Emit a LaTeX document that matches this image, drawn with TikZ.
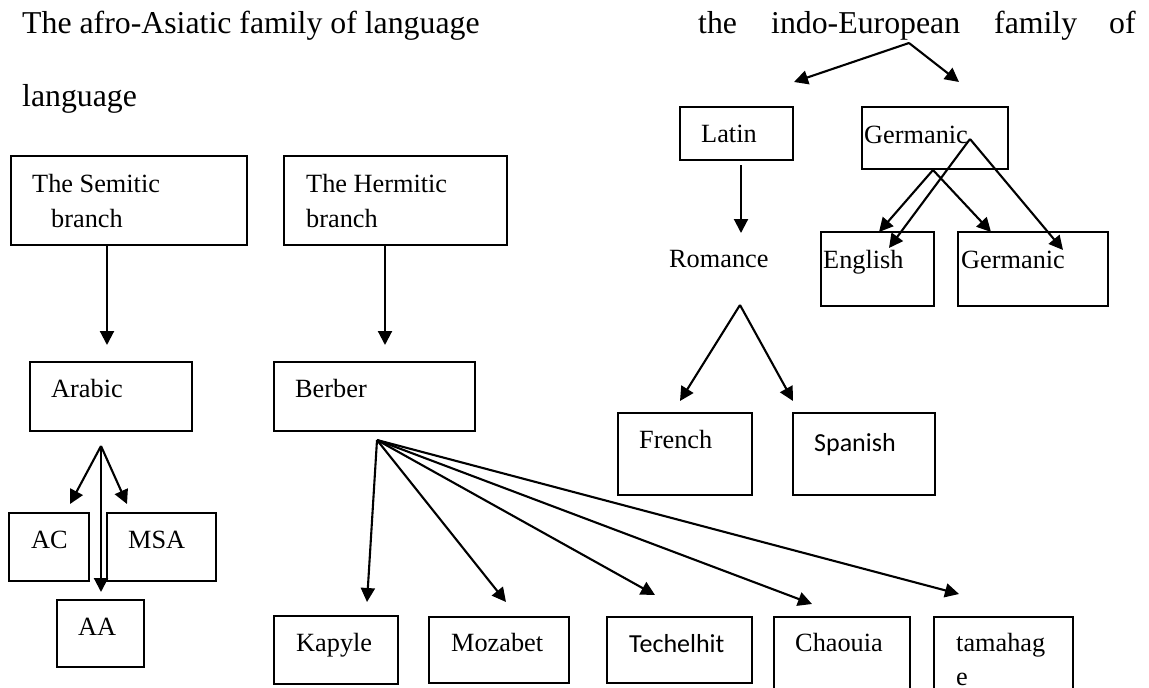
\documentclass[tikz,border=0pt]{standalone}
\usepackage{fontspec}
\setmainfont{Liberation Serif}
\newfontfamily\sansf{Carlito}
\usetikzlibrary{arrows.meta}
\begin{document}
\begin{tikzpicture}[x=1pt,y=-1pt,
  box/.style={draw, line width=1.3pt, inner sep=0pt, outer sep=0pt, anchor=north west},
  txt/.style={inner sep=0pt, anchor=base west, font=\fontsize{26.3}{30}\selectfont},
  stxt/.style={inner sep=0pt, anchor=base west, font=\sansf\fontsize{26}{30}\selectfont},
  ttl/.style={inner sep=0pt, anchor=base west, font=\fontsize{31.8}{36}\selectfont},
  arr/.style={line width=2.1pt, -{Triangle[length=14pt,width=14pt]}}]
\useasboundingbox (0,0) rectangle (1149,688);
\clip (0,0) rectangle (1149,688);
% titles
\node[ttl] (t1) at (22,33) {The afro-Asiatic family of language};
\node[ttl] (t2) at (22,106) {language};
\node[ttl] (t3) at (698,33) {the};
\node[ttl] (t4) at (771,33) {indo-European};
\node[ttl] (t5) at (994,33) {family};
\node[ttl] (t6) at (1109,33) {of};
% boxes
\node[box, minimum width=236pt, minimum height=89pt] (semitic) at (11,156) {};
\node[box, minimum width=223pt, minimum height=89pt] (hermitic) at (284,156) {};
\node[box, minimum width=113pt, minimum height=53pt] (latin) at (680,107) {};
\node[box, minimum width=146pt, minimum height=62pt] (germanic) at (862,107) {};
\node[box, minimum width=113pt, minimum height=74pt] (english) at (821,232) {};
\node[box, minimum width=150pt, minimum height=74pt] (germanic2) at (958,232) {};
\node[box, minimum width=162pt, minimum height=69pt] (arabic) at (30,362) {};
\node[box, minimum width=201pt, minimum height=69pt] (berber) at (274,362) {};
\node[box, minimum width=134pt, minimum height=82pt] (french) at (618,413) {};
\node[box, minimum width=142pt, minimum height=82pt] (spanish) at (793,413) {};
\node[box, minimum width=80pt, minimum height=68pt] (ac) at (9,513) {};
\node[box, minimum width=109pt, minimum height=68pt] (msa) at (107,513) {};
\node[box, minimum width=87pt, minimum height=67pt] (aa) at (57,600) {};
\node[box, minimum width=124pt, minimum height=68pt] (kapyle) at (274,616) {};
\node[box, minimum width=140pt, minimum height=66pt] (mozabet) at (429,617) {};
\node[box, minimum width=145pt, minimum height=66pt] (techelhit) at (607,617) {};
\node[box, minimum width=136pt, minimum height=90pt] (chaouia) at (774,617) {};
\node[box, minimum width=139pt, minimum height=90pt] (tamahage) at (934,617) {};
% texts
\node[txt] (semiticA) at (32,192) {The Semitic};
\node[txt] (semiticB) at (51,227) {branch};
\node[txt] (hermiticA) at (306,192) {The Hermitic};
\node[txt] (hermiticB) at (306,227) {branch};
\node[txt] (latinT) at (701,142) {Latin};
\node[txt] (germanicT) at (864,143) {Germanic};
\node[txt] (romance) at (669,267) {Romance};
\node[txt] (englishT) at (823,268) {English};
\node[txt] (germanicT2) at (961,268) {Germanic};
\node[txt] (arabicT) at (51,397) {Arabic};
\node[txt] (berberT) at (295,397) {Berber};
\node[txt] (frenchT) at (639,448) {French};
\node[stxt] (spanishT) at (814,451) {Spanish};
\node[txt] (acT) at (31,548) {AC};
\node[txt] (msaT) at (128,548) {MSA};
\node[txt] (aaT) at (78,635) {AA};
\node[txt] (kapyleT) at (296,651) {Kapyle};
\node[txt] (mozabetT) at (451,651) {Mozabet};
\node[stxt] (techelhitT) at (629,652) {Techelhit};
\node[txt] (chaouiaT) at (795,651) {Chaouia};
\node[txt] (tamahageA) at (956,651) {tamahag};
\node[txt] (tamahageB) at (956,685) {e};
% connector points
\coordinate (semS) at (107,245);  \coordinate (semE) at (107,345);
\coordinate (herS) at (385,245);  \coordinate (herE) at (385,345);
\coordinate (indo) at (909,43);
\coordinate (indoL) at (794,82);  \coordinate (indoR) at (959,82);
\coordinate (latS) at (741,165);  \coordinate (latE) at (741,233);
\coordinate (gerA) at (970,139);
\coordinate (gerA1) at (889,248); \coordinate (gerA2) at (1063,250);
\coordinate (gerB) at (933,170);
\coordinate (gerB1) at (879,232); \coordinate (gerB2) at (991,232);
\coordinate (rom) at (740,305);
\coordinate (romL) at (680,401);  \coordinate (romR) at (793,401);
\coordinate (arb) at (101,446);
\coordinate (arbL) at (70,504);   \coordinate (arbR) at (127,504);
\coordinate (arbD) at (101,592);
\coordinate (ber) at (377,440);
\coordinate (ber1) at (367,602);  \coordinate (ber2) at (506,602);
\coordinate (ber3) at (655,595);  \coordinate (ber4) at (812,604);
\coordinate (ber5) at (959,594);
% connectors
\draw[arr] (semS) -- (semE);
\draw[arr] (herS) -- (herE);
\draw[arr] (indo) -- (indoL);
\draw[arr] (indo) -- (indoR);
\draw[arr] (latS) -- (latE);
\draw[arr] (gerA) -- (gerA1);
\draw[arr] (gerA) -- (gerA2);
\draw[arr] (gerB) -- (gerB1);
\draw[arr] (gerB) -- (gerB2);
\draw[arr] (rom) -- (romL);
\draw[arr] (rom) -- (romR);
\draw[arr] (arb) -- (arbL);
\draw[arr] (arb) -- (arbR);
\draw[arr] (arb) -- (arbD);
\draw[arr] (ber) -- (ber1);
\draw[arr] (ber) -- (ber2);
\draw[arr] (ber) -- (ber3);
\draw[arr] (ber) -- (ber4);
\draw[arr] (ber) -- (ber5);
\end{tikzpicture}
\end{document}
